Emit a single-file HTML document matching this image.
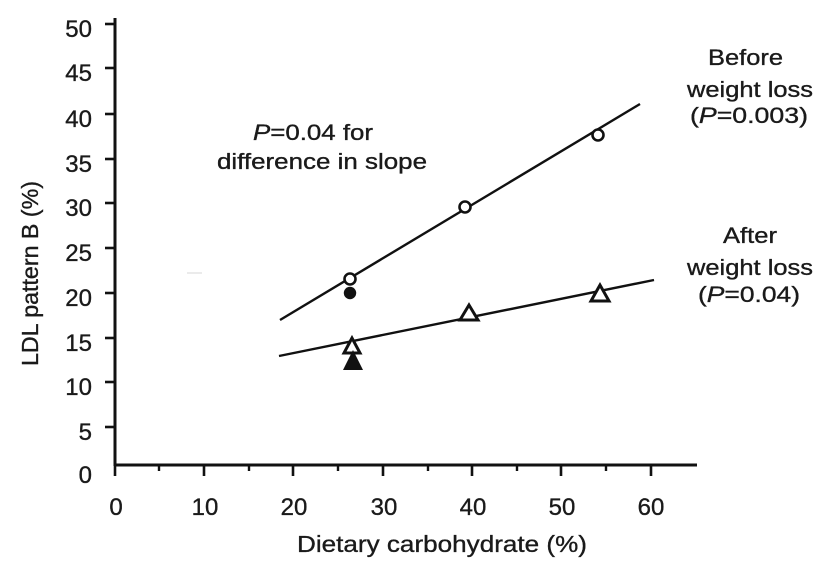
<!DOCTYPE html>
<html>
<head>
<meta charset="utf-8">
<style>
  html, body { margin: 0; padding: 0; background: #ffffff; }
  svg { display: block; }
  text { font-family: "Liberation Sans", Arial, sans-serif; fill: #1a1a1a; stroke: #1a1a1a; stroke-width: 0.35; }
</style>
</head>
<body>
<svg width="821" height="566" viewBox="0 0 821 566" xmlns="http://www.w3.org/2000/svg">
  <rect width="821" height="566" fill="#ffffff"/>

  <!-- faint artifact -->
  <line x1="187" y1="273" x2="202" y2="273" stroke="#e4e4e4" stroke-width="1.5"/>

  <!-- axes -->
  <line x1="115" y1="18" x2="115" y2="466" stroke="#111" stroke-width="3"/>
  <line x1="114" y1="465" x2="697" y2="465" stroke="#111" stroke-width="3"/>

  <!-- y ticks -->
  <g stroke="#111" stroke-width="2.6">
    <line x1="105" y1="24" x2="115" y2="24"/>
    <line x1="105" y1="68" x2="115" y2="68"/>
    <line x1="105" y1="114" x2="115" y2="114"/>
    <line x1="105" y1="159" x2="115" y2="159"/>
    <line x1="105" y1="203" x2="115" y2="203"/>
    <line x1="105" y1="248" x2="115" y2="248"/>
    <line x1="105" y1="293" x2="115" y2="293"/>
    <line x1="105" y1="338" x2="115" y2="338"/>
    <line x1="105" y1="382" x2="115" y2="382"/>
    <line x1="105" y1="427" x2="115" y2="427"/>
  </g>

  <!-- x ticks major -->
  <g stroke="#111" stroke-width="2.6">
    <line x1="115" y1="465" x2="115" y2="476"/>
    <line x1="204" y1="465" x2="204" y2="476"/>
    <line x1="293" y1="465" x2="293" y2="476"/>
    <line x1="383" y1="465" x2="383" y2="476"/>
    <line x1="472" y1="465" x2="472" y2="476"/>
    <line x1="561" y1="465" x2="561" y2="476"/>
    <line x1="651" y1="465" x2="651" y2="476"/>
  </g>
  <!-- x ticks minor -->
  <g stroke="#111" stroke-width="2.4">
    <line x1="159" y1="465" x2="159" y2="471"/>
    <line x1="249" y1="465" x2="249" y2="471"/>
    <line x1="338" y1="465" x2="338" y2="471"/>
    <line x1="428" y1="465" x2="428" y2="471"/>
    <line x1="517" y1="465" x2="517" y2="471"/>
    <line x1="606" y1="465" x2="606" y2="471"/>
  </g>

  <!-- y tick labels -->
  <g font-size="24" text-anchor="end">
    <text x="92" y="37">50</text>
    <text x="92" y="81">45</text>
    <text x="92" y="127">40</text>
    <text x="92" y="172">35</text>
    <text x="92" y="216">30</text>
    <text x="92" y="261">25</text>
    <text x="92" y="306">20</text>
    <text x="92" y="351">15</text>
    <text x="92" y="395">10</text>
    <text x="92" y="440">5</text>
    <text x="92" y="483">0</text>
  </g>

  <!-- x tick labels -->
  <g font-size="24" text-anchor="middle">
    <text x="116" y="515">0</text>
    <text x="205" y="515">10</text>
    <text x="294" y="515">20</text>
    <text x="384" y="515">30</text>
    <text x="473" y="515">40</text>
    <text x="562" y="515">50</text>
    <text x="651" y="515">60</text>
  </g>

  <!-- axis titles -->
  <text x="297" y="552" font-size="23" textLength="290" lengthAdjust="spacingAndGlyphs">Dietary carbohydrate (%)</text>
  <text transform="translate(38,366) rotate(-90)" x="0" y="0" font-size="23" textLength="185" lengthAdjust="spacingAndGlyphs">LDL pattern B (%)</text>

  <!-- regression lines -->
  <line x1="280" y1="320" x2="640" y2="104" stroke="#111" stroke-width="2.4"/>
  <line x1="279" y1="356" x2="654" y2="280" stroke="#111" stroke-width="2.4"/>

  <!-- before: open circles -->
  <g fill="#ffffff" stroke="#111" stroke-width="2.6">
    <circle cx="350" cy="279" r="5.5"/>
    <circle cx="465" cy="207" r="5.5"/>
    <circle cx="598" cy="135" r="5.5"/>
  </g>
  <!-- filled circle -->
  <circle cx="350" cy="293" r="6.2" fill="#111"/>

  <!-- after: open triangles -->
  <g fill="#ffffff" stroke="#111" stroke-width="3" stroke-linejoin="miter">
    <polygon points="352,338 344,353 360,353"/>
    <polygon points="469,305 460,320 478,320"/>
    <polygon points="600,285 591,301 609,301"/>
  </g>
  <!-- filled triangle -->
  <polygon points="353,350 343,370 363,370" fill="#111"/>

  <!-- middle annotation -->
  <text x="253" y="140" font-size="22" textLength="120" lengthAdjust="spacingAndGlyphs"><tspan font-style="italic">P</tspan>=0.04 for</text>
  <text x="217" y="169" font-size="22" textLength="210" lengthAdjust="spacingAndGlyphs">difference in slope</text>

  <!-- right annotations -->
  <text x="708" y="65" font-size="22" textLength="75" lengthAdjust="spacingAndGlyphs">Before</text>
  <text x="687" y="97" font-size="22" textLength="126" lengthAdjust="spacingAndGlyphs">weight loss</text>
  <text x="690" y="123" font-size="22" textLength="118" lengthAdjust="spacingAndGlyphs">(<tspan font-style="italic">P</tspan>=0.003)</text>

  <text x="723" y="243" font-size="22" textLength="54" lengthAdjust="spacingAndGlyphs">After</text>
  <text x="687" y="275" font-size="22" textLength="126" lengthAdjust="spacingAndGlyphs">weight loss</text>
  <text x="698" y="302" font-size="22" textLength="102" lengthAdjust="spacingAndGlyphs">(<tspan font-style="italic">P</tspan>=0.04)</text>
</svg>
</body>
</html>
